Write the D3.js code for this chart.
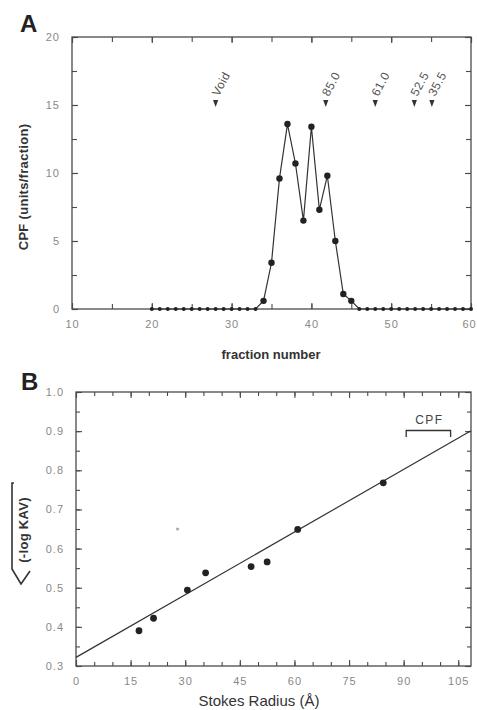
<!DOCTYPE html>
<html>
<head>
<meta charset="utf-8">
<script src="https://cdn.jsdelivr.net/npm/d3@7"></script>
<style>
  html, body { margin: 0; padding: 0; background: #fff; }
  svg { display: block; font-family: "Liberation Sans", Arial, sans-serif; }
</style>
</head>
<body>
<svg id="chart" width="477" height="710"></svg>
<script>
// ---------- Panel A data ----------
const fractions = d3.range(20, 61);
const cpfValues = [
  0,0,0,0,0,0,0,0,0,0,0,0,0,0,      // 20..33
  0.6, 3.4, 9.6, 13.6, 10.7, 6.5, 13.4, 7.3, 9.8, 5.0, 1.1, 0.6, // 34..45
  0,0,0,0,0,0,0,0,0,0,0,0,0,0,0     // 46..60
];
const markerFractions = [28, 41.8, 48, 52.9, 55.1];
const markerLabels = ["Void", "85.0", "61.0", "52.5", "35.5"];
const xTicksA = [10, 20, 30, 40, 50, 60];
const yTicksA = [0, 5, 10, 15, 20];

// ---------- Panel B data ----------
const stokesRadius = [17.3, 21.3, 30.6, 35.6, 48.1, 52.5, 60.9, 84.4];
const sqrtLogKav   = [0.39, 0.422, 0.494, 0.538, 0.554, 0.566, 0.649, 0.768];
const strayX = [27.9];
const strayY = [0.65];
const fitX = [0, 108.5];
const fitY = [0.322, 0.901];
const cpfRange = [90.7, 102.9];
const xTicksB = [0, 15, 30, 45, 60, 75, 90, 105];
const yTicksB = [0.3, 0.4, 0.5, 0.6, 0.7, 0.8, 0.9, 1.0];

const svg = d3.select("#chart");
const axisColor = "#4a4a4a";
const tickText = "#888888";

function frame(g, x, y, xMinor, yMinor, xMajor, yMajor, xFmt, yFmt, majLen, minLen) {
  const [x0, x1] = x.range();
  const [y0, y1] = y.range();
  g.append("g").attr("transform", `translate(0,${y0})`)
    .call(d3.axisBottom(x).tickValues(xMinor).tickSize(-minLen).tickFormat(""));
  g.append("g").attr("class", "lab").attr("transform", `translate(0,${y0})`)
    .call(d3.axisBottom(x).tickValues(xMajor).tickSize(-majLen).tickPadding(majLen + 5).tickFormat(xFmt));
  g.append("g").attr("transform", `translate(0,${y1})`)
    .call(d3.axisTop(x).tickValues(xMinor).tickSize(-minLen).tickFormat(""));
  g.append("g").attr("transform", `translate(0,${y1})`)
    .call(d3.axisTop(x).tickValues(xMajor).tickSize(-majLen).tickFormat(""));
  g.append("g").attr("transform", `translate(${x0},0)`)
    .call(d3.axisLeft(y).tickValues(yMinor).tickSize(-minLen).tickFormat(""));
  g.append("g").attr("class", "lab").attr("transform", `translate(${x0},0)`)
    .call(d3.axisLeft(y).tickValues(yMajor).tickSize(-majLen).tickPadding(majLen + 6).tickFormat(yFmt));
  g.append("g").attr("transform", `translate(${x1},0)`)
    .call(d3.axisRight(y).tickValues(yMinor).tickSize(-minLen).tickFormat(""));
  g.append("g").attr("transform", `translate(${x1},0)`)
    .call(d3.axisRight(y).tickValues(yMajor).tickSize(-majLen).tickFormat(""));
  g.selectAll(".domain").remove();
  g.selectAll(".tick line").attr("stroke", axisColor).attr("stroke-width", 1.1);
  g.selectAll(".tick text").attr("fill", tickText).style("fill", tickText).attr("font-size", 11)
    .attr("font-family", "'Liberation Sans', Arial, sans-serif").attr("letter-spacing", 1);
  g.append("rect").attr("x", x0).attr("y", y1).attr("width", x1 - x0).attr("height", y0 - y1)
    .attr("fill", "none").attr("stroke", axisColor).attr("stroke-width", 1.3);
}

// ================= Panel A =================
const xA = d3.scaleLinear().domain([10, 60]).range([72, 471]);
const yA = d3.scaleLinear().domain([0, 20]).range([309, 37]);
const gA = svg.append("g");
frame(gA, xA, yA, d3.range(10, 61, 5), d3.range(0, 20.1, 2.5), xTicksA, yTicksA,
      d3.format("d"), d3.format("d"), 6, 5);
// keep the last x label inside the page
gA.selectAll(".lab .tick text").filter(d => d === 60).attr("dx", -2);

const dataA = fractions.map((f, i) => ({ f, v: cpfValues[i] }));
gA.append("path").datum(dataA)
  .attr("fill", "none").attr("stroke", "#333").attr("stroke-width", 1.2)
  .attr("d", d3.line().x(d => xA(d.f)).y(d => yA(d.v)));
gA.selectAll("circle.pt").data(dataA).enter().append("circle")
  .attr("cx", d => xA(d.f)).attr("cy", d => yA(d.v))
  .attr("r", d => d.v > 0 ? 3.2 : 2.0).attr("fill", "#222");

// markers
markerFractions.forEach((f, i) => {
  const cx = xA(f);
  const tipY = yA(14.85);
  gA.append("path")
    .attr("d", `M${cx - 2.6},${tipY - 7} L${cx + 2.6},${tipY - 7} L${cx},${tipY} Z`)
    .attr("fill", "#333");
  gA.append("text")
    .attr("transform", `translate(${cx + 3},${tipY - 10}) rotate(-62)`)
    .attr("font-size", 12).attr("fill", "#555").attr("letter-spacing", 0.5)
    .text(markerLabels[i]);
});

svg.append("text").attr("x", 20).attr("y", 32).attr("font-size", 24)
  .attr("font-weight", "bold").attr("fill", "#222").text("A");
svg.append("text").attr("transform", "translate(28,187) rotate(-90)")
  .attr("text-anchor", "middle").attr("font-size", 13).attr("font-weight", "bold")
  .attr("fill", "#333").attr("letter-spacing", 0.3).text("CPF  (units/fraction)");
svg.append("text").attr("x", 271).attr("y", 359).attr("text-anchor", "middle")
  .attr("font-size", 13).attr("font-weight", "bold").attr("fill", "#333")
  .text("fraction number");

// ================= Panel B =================
const xB = d3.scaleLinear().domain([0, 108.5]).range([76, 471]);
const yB = d3.scaleLinear().domain([0.3, 1.0]).range([666, 392]);
const gB = svg.append("g");
frame(gB, xB, yB, d3.range(0, 108, 5), d3.range(0.3, 1.001, 0.05), xTicksB, yTicksB,
      d3.format("d"), d3.format(".1f"), 6, 4);

gB.append("path").datum(fitX.map((x, i) => [x, fitY[i]]))
  .attr("fill", "none").attr("stroke", "#333").attr("stroke-width", 1.2)
  .attr("d", d3.line().x(d => xB(d[0])).y(d => yB(d[1])));
gB.selectAll("circle.pt").data(stokesRadius).enter().append("circle")
  .attr("cx", d => xB(d)).attr("cy", (d, i) => yB(sqrtLogKav[i]))
  .attr("r", 3.4).attr("fill", "#222");
gB.selectAll("circle.stray").data(strayX).enter().append("circle")
  .attr("cx", d => xB(d)).attr("cy", (d, i) => yB(strayY[i]))
  .attr("r", 1.6).attr("fill", "#aaa");

// CPF bracket
const bx0 = xB(cpfRange[0]), bx1 = xB(cpfRange[1]);
const bTop = 430.5, bLeg = 437;
gB.append("path")
  .attr("d", `M${bx0},${bLeg} L${bx0},${bTop} L${bx1},${bTop} L${bx1},${bLeg}`)
  .attr("fill", "none").attr("stroke", "#333").attr("stroke-width", 1.3);
gB.append("text").attr("x", (bx0 + bx1) / 2 + 1).attr("y", 424).attr("text-anchor", "middle")
  .attr("font-size", 12).attr("fill", "#444").attr("letter-spacing", 1.5).text("CPF");

svg.append("text").attr("x", 21).attr("y", 390).attr("font-size", 24)
  .attr("font-weight", "bold").attr("fill", "#222").text("B");

// y label with radical
svg.append("text").attr("transform", "translate(28,530) rotate(-90)")
  .attr("text-anchor", "middle").attr("font-size", 13).attr("font-weight", "bold")
  .attr("fill", "#333").attr("letter-spacing", 0.3).text("(-log  KAV)");
svg.append("path").attr("d", "M30,571 L21,584 L12,569 L12,483 L14,483")
  .attr("fill", "none").attr("stroke", "#333").attr("stroke-width", 1.6);

svg.append("text").attr("x", 259).attr("y", 706).attr("text-anchor", "middle")
  .attr("font-size", 15).attr("fill", "#333").text("Stokes Radius (Å)");
</script>
</body>
</html>
